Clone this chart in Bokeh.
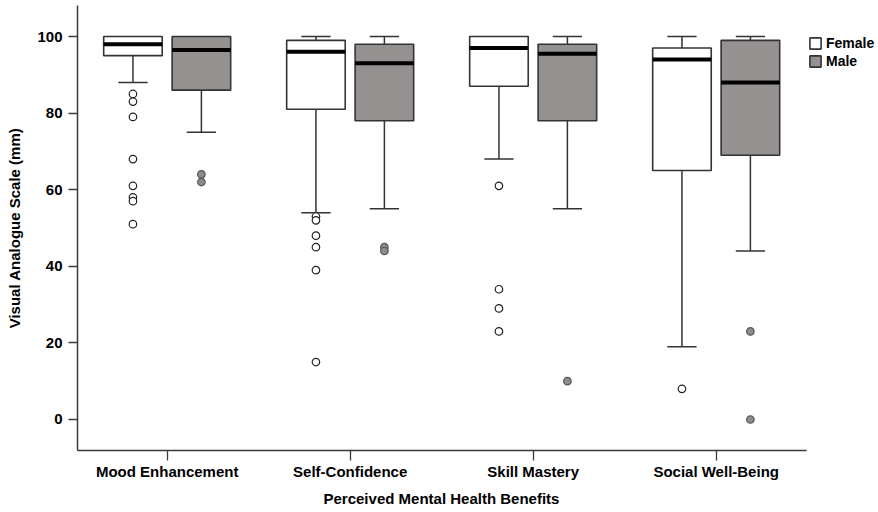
from bokeh.plotting import figure
from bokeh.models import ColumnDataSource, FixedTicker, Legend, LegendItem, Range1d, Title
from bokeh.embed import file_html
from bokeh.resources import INLINE

categories = ["Mood Enhancement", "Self-Confidence", "Skill Mastery", "Social Well-Being"]
positions = [1, 2, 3, 4]

female_low = [88, 54, 68, 19]
female_q1 = [95, 81, 87, 65]
female_med = [98, 96, 97, 94]
female_q3 = [100, 99, 100, 97]
female_high = [100, 100, 100, 100]
female_outliers = [[85, 83, 79, 68, 61, 58, 57, 51],
                   [53, 52, 48, 45, 39, 15],
                   [61, 34, 29, 23],
                   [8]]

male_low = [75, 55, 55, 44]
male_q1 = [86, 78, 78, 69]
male_med = [96.5, 93, 95.5, 88]
male_q3 = [100, 98, 98, 99]
male_high = [100, 100, 100, 100]
male_outliers = [[64, 62],
                 [45, 44],
                 [10],
                 [23, 0]]

FONT = "Liberation Sans"
EDGE = "#333333"
MALE_FILL = "#959190"

p = figure(width=878, height=512, output_backend="svg", toolbar_location=None,
           x_range=Range1d(0.510, 4.887), y_range=Range1d(-8.1, 108.1),
           min_border_left=77, min_border_right=0, min_border_top=5, min_border_bottom=62)
p.outline_line_color = None
p.xgrid.visible = False
p.ygrid.visible = False

offset = 0.187
half_w = 0.16
cap_half = 0.08

renderers = {}
for name, dx, low, q1, med, q3, high, outl, fill, ofill, oline in [
    ("Female", -offset, female_low, female_q1, female_med, female_q3, female_high, female_outliers, "white", "white", "#222222"),
    ("Male", offset, male_low, male_q1, male_med, male_q3, male_high, male_outliers, MALE_FILL, "#8e8b8a", "#555555"),
]:
    xs = [c + dx for c in positions]
    src = ColumnDataSource(dict(
        x=xs, left=[x - half_w for x in xs], right=[x + half_w for x in xs],
        capl=[x - cap_half for x in xs], capr=[x + cap_half for x in xs],
        low=low, q1=q1, med=med, q3=q3, high=high))
    # lower whisker
    p.segment(x0="x", y0="low", x1="x", y1="q1", source=src, line_color=EDGE, line_width=1.5)
    p.segment(x0="capl", y0="low", x1="capr", y1="low", source=src, line_color=EDGE, line_width=1.5)
    # upper whisker (only where it extends beyond the box)
    up = [i for i in range(len(xs)) if high[i] > q3[i]]
    usrc = ColumnDataSource(dict(
        x=[xs[i] for i in up], capl=[xs[i] - cap_half for i in up], capr=[xs[i] + cap_half for i in up],
        q3=[q3[i] for i in up], high=[high[i] for i in up]))
    p.segment(x0="x", y0="q3", x1="x", y1="high", source=usrc, line_color=EDGE, line_width=1.5)
    p.segment(x0="capl", y0="high", x1="capr", y1="high", source=usrc, line_color=EDGE, line_width=1.5)
    # box
    r = p.quad(left="left", right="right", bottom="q1", top="q3", source=src,
               fill_color=fill, line_color=EDGE, line_width=1.6)
    renderers[name] = r
    # median
    p.segment(x0="left", y0="med", x1="right", y1="med", source=src, line_color="black",
              line_width=4, line_cap="butt")
    # outliers
    ox, oy = [], []
    for i, vals in enumerate(outl):
        for v in vals:
            ox.append(xs[i])
            oy.append(v)
    p.scatter(x=ox, y=oy, size=7.5, marker="circle", fill_color=ofill, line_color=oline, line_width=1.2)

# axes
p.xaxis.ticker = FixedTicker(ticks=positions)
p.xaxis.bounds = (0.510, 4.494)
p.xaxis.major_label_overrides = {pos: cat for pos, cat in zip(positions, categories)}
p.yaxis.ticker = FixedTicker(ticks=[0, 20, 40, 60, 80, 100])
for ax in (p.xaxis, p.yaxis):
    ax.axis_line_color = "#3a3a3a"
    ax.axis_line_width = 1.5
    ax.major_tick_line_color = "#3a3a3a"
    ax.major_tick_line_width = 1.3
    ax.major_tick_in = 0
    ax.minor_tick_line_color = None
    ax.major_label_text_font = FONT
    ax.major_label_text_font_style = "bold"
    ax.major_label_text_font_size = "15px"
    ax.major_label_text_color = "black"
    ax.axis_label_text_font = FONT
    ax.axis_label_text_font_style = "bold"
    ax.axis_label_text_font_size = "15px"
    ax.axis_label_text_color = "black"
p.xaxis.major_tick_out = 10
p.xaxis.major_label_standoff = 2
p.yaxis.major_tick_out = 9
p.yaxis.major_label_standoff = 6
p.yaxis.axis_label_standoff = 11
p.yaxis.axis_label = "Visual Analogue Scale (mm)"

# x-axis title, centred under the drawn axis line
xtitle = Title(text="Perceived Mental Health Benefits", align="left", offset=246,
               text_font=FONT, text_font_style="bold", text_font_size="15px",
               text_color="black", standoff=11)
p.add_layout(xtitle, "below")

legend = Legend(items=[LegendItem(label="Female", renderers=[renderers["Female"]]),
                       LegendItem(label="Male", renderers=[renderers["Male"]])],
                location=(731, 381), orientation="vertical",
                glyph_width=14, glyph_height=14, label_standoff=4, spacing=2,
                padding=0, margin=0, label_height=14,
                label_text_font=FONT, label_text_font_style="bold", label_text_font_size="14px",
                label_text_color="black",
                border_line_alpha=0, background_fill_alpha=0)
p.add_layout(legend)

open("out.html", "w").write(file_html(p, INLINE))
